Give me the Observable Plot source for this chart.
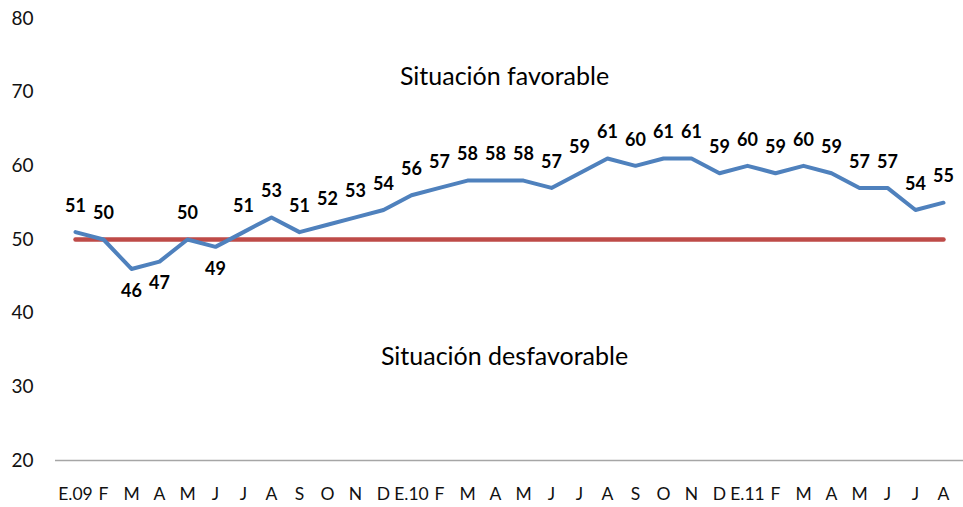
<!DOCTYPE html>
<html><head><meta charset="utf-8">
<script src="https://cdn.jsdelivr.net/npm/d3@7"></script>
<script src="https://cdn.jsdelivr.net/npm/@observablehq/plot@0.6"></script>
<style>body{margin:0;background:#fff;font-family:Lato,sans-serif}</style>
</head><body><div id="chart"></div>
<script>
const months = ["E.09","F","M","A","M","J","J","A","S","O","N","D",
                "E.10","F","M","A","M","J","J","A","S","O","N","D",
                "E.11","F","M","A","M","J","J","A"];
const values = [51,50,46,47,50,49,51,53,51,52,53,54,
                56,57,58,58,58,57,59,61,60,61,61,59,
                60,59,60,59,57,57,54,55];
const threshold = 50;
const yTicks = [20,30,40,50,60,70,80];
const annotations = [
  {label: "Situación favorable", y: 72.0},
  {label: "Situación desfavorable", y: 34.0}
];

const data = values.map((v, i) => ({i, v}));

const chart = Plot.plot({
  width: 963,
  height: 507,
  marginLeft: 55,
  marginRight: 0,
  marginTop: 18,
  marginBottom: 47,
  style: {fontFamily: "Lato, sans-serif", background: "#fff", overflow: "visible"},
  x: {type: "point", domain: d3.range(months.length), padding: 0.5, axis: null},
  y: {domain: [20, 80], axis: null},
  marks: [
    Plot.ruleY([20], {stroke: "#a6a6a6", strokeWidth: 1.5}),
    Plot.axisY({ticks: yTicks, tickSize: 0, tickPadding: 22, fontSize: 19, color: "#111", label: null}),
    Plot.axisX({ticks: d3.range(months.length), tickFormat: i => months[i], tickSize: 0, tickPadding: 27, fontSize: 17.5, color: "#111", label: null}),
    Plot.line(data, {x: "i", y: () => threshold, stroke: "#be4b48", strokeWidth: 4.5}),
    Plot.line(data, {x: "i", y: "v", stroke: "#4f81bd", strokeWidth: 4}),
    Plot.text(data, {x: "i", y: "v", text: d => String(d.v),
      filter: d => d.v >= threshold, dy: -26, fontWeight: "bold", fontSize: 18, fill: "#000"}),
    Plot.text(data, {x: "i", y: "v", text: d => String(d.v),
      filter: d => d.v < threshold, dy: 22, fontWeight: "bold", fontSize: 18, fill: "#000"}),
    Plot.text(annotations, {y: "y", text: "label", dx: -5, fontSize: 25, fill: "#000"})
  ]
});
document.getElementById("chart").append(chart);
</script>
</body></html>
